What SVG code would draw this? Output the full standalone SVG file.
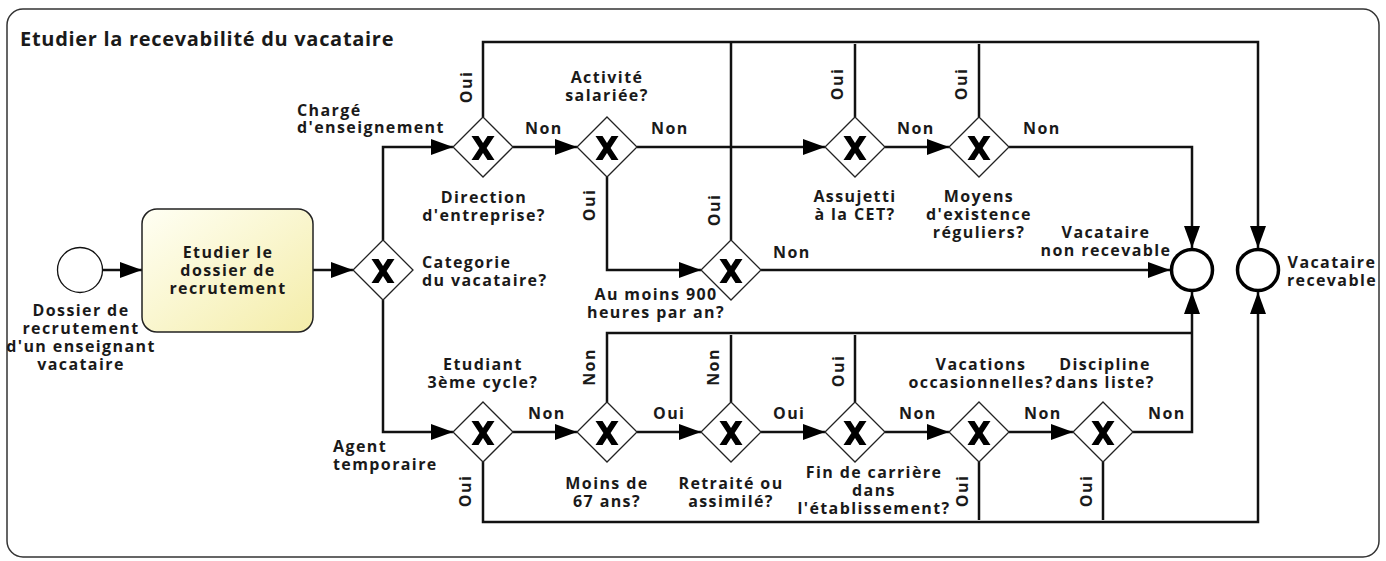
<svg xmlns="http://www.w3.org/2000/svg" width="1386" height="561" viewBox="0 0 1386 561">
<style>
.lbl{font-family:"Open Sans","Liberation Sans",sans-serif;font-weight:700;font-size:16px;fill:#1a1a1a;letter-spacing:1.4px}
.c{text-anchor:middle}
.title{font-size:20px;letter-spacing:0.7px}
.flow{fill:none;stroke:#111;stroke-width:2.5}
.arr{marker-end:url(#ah)}
.gw{fill:#fff;stroke:#222;stroke-width:1.3}
.xm{fill:#000}
.end{fill:#fff;stroke:#000;stroke-width:3.5}
</style>
<defs>
<marker id="ah" viewBox="0 0 22 16" refX="22" refY="8" markerWidth="22" markerHeight="16" markerUnits="userSpaceOnUse" orient="auto">
<path d="M0,0 L22,8 L0,16 z" fill="#000"/>
</marker>
<linearGradient id="tg" x1="0" y1="0" x2="1" y2="1">
<stop offset="0" stop-color="#fffff4"/>
<stop offset="1" stop-color="#f4eda9"/>
</linearGradient>
<g id="gwshape">
<path class="gw" d="M0,-30 L30,0 L0,30 L-30,0 z"/>
<path class="xm" d="M-11.5,-11 L-4.5,-11 L0,-4 L4.5,-11 L11.5,-11 L3.6,1 L11.5,13 L4.5,13 L0,6 L-4.5,13 L-11.5,13 L-3.6,1 z"/>
</g>
</defs>
<rect id="pool" x="7" y="9" width="1372" height="548" rx="16" fill="#fff" stroke="#333" stroke-width="1.5"/>
<text class="lbl title" x="20" y="46">Etudier la recevabilité du vacataire</text>

<g id="connectors">
<path class="flow arr" d="M103,270 H142"/>
<path class="flow arr" d="M313,270 H353"/>
<path class="flow arr" d="M383,240 V147 H453"/>
<path class="flow arr" d="M383,300 V432 H453"/>
<path class="flow arr" d="M513,147 H577"/>
<path class="flow arr" d="M483,117 V42 H1258 V248"/>
<path class="flow arr" d="M637,147 H825"/>
<path class="flow arr" d="M607,177 V270 H701"/>
<path class="flow" d="M731,240 V42"/>
<path class="flow arr" d="M761,270 H1170"/>
<path class="flow arr" d="M885,147 H949"/>
<path class="flow" d="M855,117 V44"/>
<path class="flow" d="M979,117 V44"/>
<path class="flow arr" d="M1009,147 H1192 V248"/>
<path class="flow arr" d="M513,432 H577"/>
<path class="flow arr" d="M637,432 H701"/>
<path class="flow arr" d="M761,432 H825"/>
<path class="flow arr" d="M885,432 H949"/>
<path class="flow arr" d="M1009,432 H1073"/>
<path class="flow arr" d="M1133,432 H1192 V292"/>
<path class="flow" d="M607,402 V333 H1192"/>
<path class="flow" d="M731,402 V335"/>
<path class="flow" d="M855,402 V335"/>
<path class="flow arr" d="M483,462 V522 H1258 V292"/>
<path class="flow" d="M979,462 V520"/>
<path class="flow" d="M1103,462 V520"/>
</g>

<g id="start">
<circle cx="80" cy="270" r="22.5" fill="#fff" stroke="#111" stroke-width="1.3"/>
<text class="lbl c" x="81" y="316">Dossier de</text>
<text class="lbl c" x="81" y="334">recrutement</text>
<text class="lbl c" x="81" y="352">d'un enseignant</text>
<text class="lbl c" x="81" y="370">vacataire</text>
</g>

<g id="task">
<rect x="142" y="209" width="171" height="123" rx="15" fill="url(#tg)" stroke="#222" stroke-width="1.5"/>
<text class="lbl c" x="228" y="258">Etudier le</text>
<text class="lbl c" x="228" y="276">dossier de</text>
<text class="lbl c" x="228" y="294">recrutement</text>
</g>

<g id="gw-categorie">
<use href="#gwshape" x="383" y="270"/>
<text class="lbl" x="422" y="268">Categorie</text>
<text class="lbl" x="422" y="286">du vacataire?</text>
<text class="lbl" x="297" y="116">Chargé</text>
<text class="lbl" x="297" y="133">d'enseignement</text>
<text class="lbl" x="333" y="452">Agent</text>
<text class="lbl" x="333" y="470">temporaire</text>
</g>

<g id="gw-direction">
<use href="#gwshape" x="483" y="147"/>
<text class="lbl c" x="484" y="203">Direction</text>
<text class="lbl c" x="484" y="221">d'entreprise?</text>
<text class="lbl c" transform="translate(472,87) rotate(-90)">Oui</text>
<text class="lbl" x="525" y="134">Non</text>
</g>

<g id="gw-activite">
<use href="#gwshape" x="607" y="147"/>
<text class="lbl c" x="607" y="83">Activité</text>
<text class="lbl c" x="607" y="101">salariée?</text>
<text class="lbl" x="651" y="134">Non</text>
<text class="lbl c" transform="translate(595,205) rotate(-90)">Oui</text>
</g>

<g id="gw-900">
<use href="#gwshape" x="731" y="270"/>
<text class="lbl c" x="656" y="300">Au moins 900</text>
<text class="lbl c" x="656" y="318">heures par an?</text>
<text class="lbl c" transform="translate(720,210) rotate(-90)">Oui</text>
<text class="lbl" x="773" y="258">Non</text>
</g>

<g id="gw-assujetti">
<use href="#gwshape" x="855" y="147"/>
<text class="lbl c" x="855" y="202">Assujetti</text>
<text class="lbl c" x="855" y="220">à la CET?</text>
<text class="lbl c" transform="translate(843,84) rotate(-90)">Oui</text>
<text class="lbl" x="897" y="134">Non</text>
</g>

<g id="gw-moyens">
<use href="#gwshape" x="979" y="147"/>
<text class="lbl c" x="979" y="202">Moyens</text>
<text class="lbl c" x="979" y="220">d'existence</text>
<text class="lbl c" x="979" y="238">réguliers?</text>
<text class="lbl c" transform="translate(967,84) rotate(-90)">Oui</text>
<text class="lbl" x="1023" y="134">Non</text>
</g>

<g id="end-non">
<circle class="end" cx="1192" cy="270" r="20.5"/>
<text class="lbl c" x="1106" y="238">Vacataire</text>
<text class="lbl c" x="1106" y="256">non recevable</text>
</g>

<g id="end-ok">
<circle class="end" cx="1258" cy="270" r="20.5"/>
<text class="lbl c" x="1332" y="268">Vacataire</text>
<text class="lbl c" x="1332" y="286">recevable</text>
</g>

<g id="gw-etudiant">
<use href="#gwshape" x="483" y="432"/>
<text class="lbl c" x="483" y="370">Etudiant</text>
<text class="lbl c" x="483" y="388">3ème cycle?</text>
<text class="lbl" x="528" y="419">Non</text>
<text class="lbl c" transform="translate(471,491) rotate(-90)">Oui</text>
</g>

<g id="gw-moins67">
<use href="#gwshape" x="607" y="432"/>
<text class="lbl c" x="607" y="489">Moins de</text>
<text class="lbl c" x="607" y="507">67 ans?</text>
<text class="lbl c" transform="translate(595,367) rotate(-90)">Non</text>
<text class="lbl" x="653" y="419">Oui</text>
</g>

<g id="gw-retraite">
<use href="#gwshape" x="731" y="432"/>
<text class="lbl c" x="731" y="489">Retraité ou</text>
<text class="lbl c" x="731" y="507">assimilé?</text>
<text class="lbl c" transform="translate(719,367) rotate(-90)">Non</text>
<text class="lbl" x="773" y="419">Oui</text>
</g>

<g id="gw-fin">
<use href="#gwshape" x="855" y="432"/>
<text class="lbl c" x="874" y="478">Fin de carrière</text>
<text class="lbl c" x="874" y="496">dans</text>
<text class="lbl c" x="874" y="514">l'établissement?</text>
<text class="lbl c" transform="translate(844,371) rotate(-90)">Oui</text>
<text class="lbl" x="899" y="419">Non</text>
</g>

<g id="gw-vacations">
<use href="#gwshape" x="979" y="432"/>
<text class="lbl c" x="981" y="370">Vacations</text>
<text class="lbl c" x="981" y="388">occasionnelles?</text>
<text class="lbl" x="1024" y="419">Non</text>
<text class="lbl c" transform="translate(968,491) rotate(-90)">Oui</text>
</g>

<g id="gw-discipline">
<use href="#gwshape" x="1103" y="432"/>
<text class="lbl c" x="1105" y="370">Discipline</text>
<text class="lbl c" x="1105" y="388">dans liste?</text>
<text class="lbl" x="1148" y="419">Non</text>
<text class="lbl c" transform="translate(1092,491) rotate(-90)">Oui</text>
</g>
</svg>
